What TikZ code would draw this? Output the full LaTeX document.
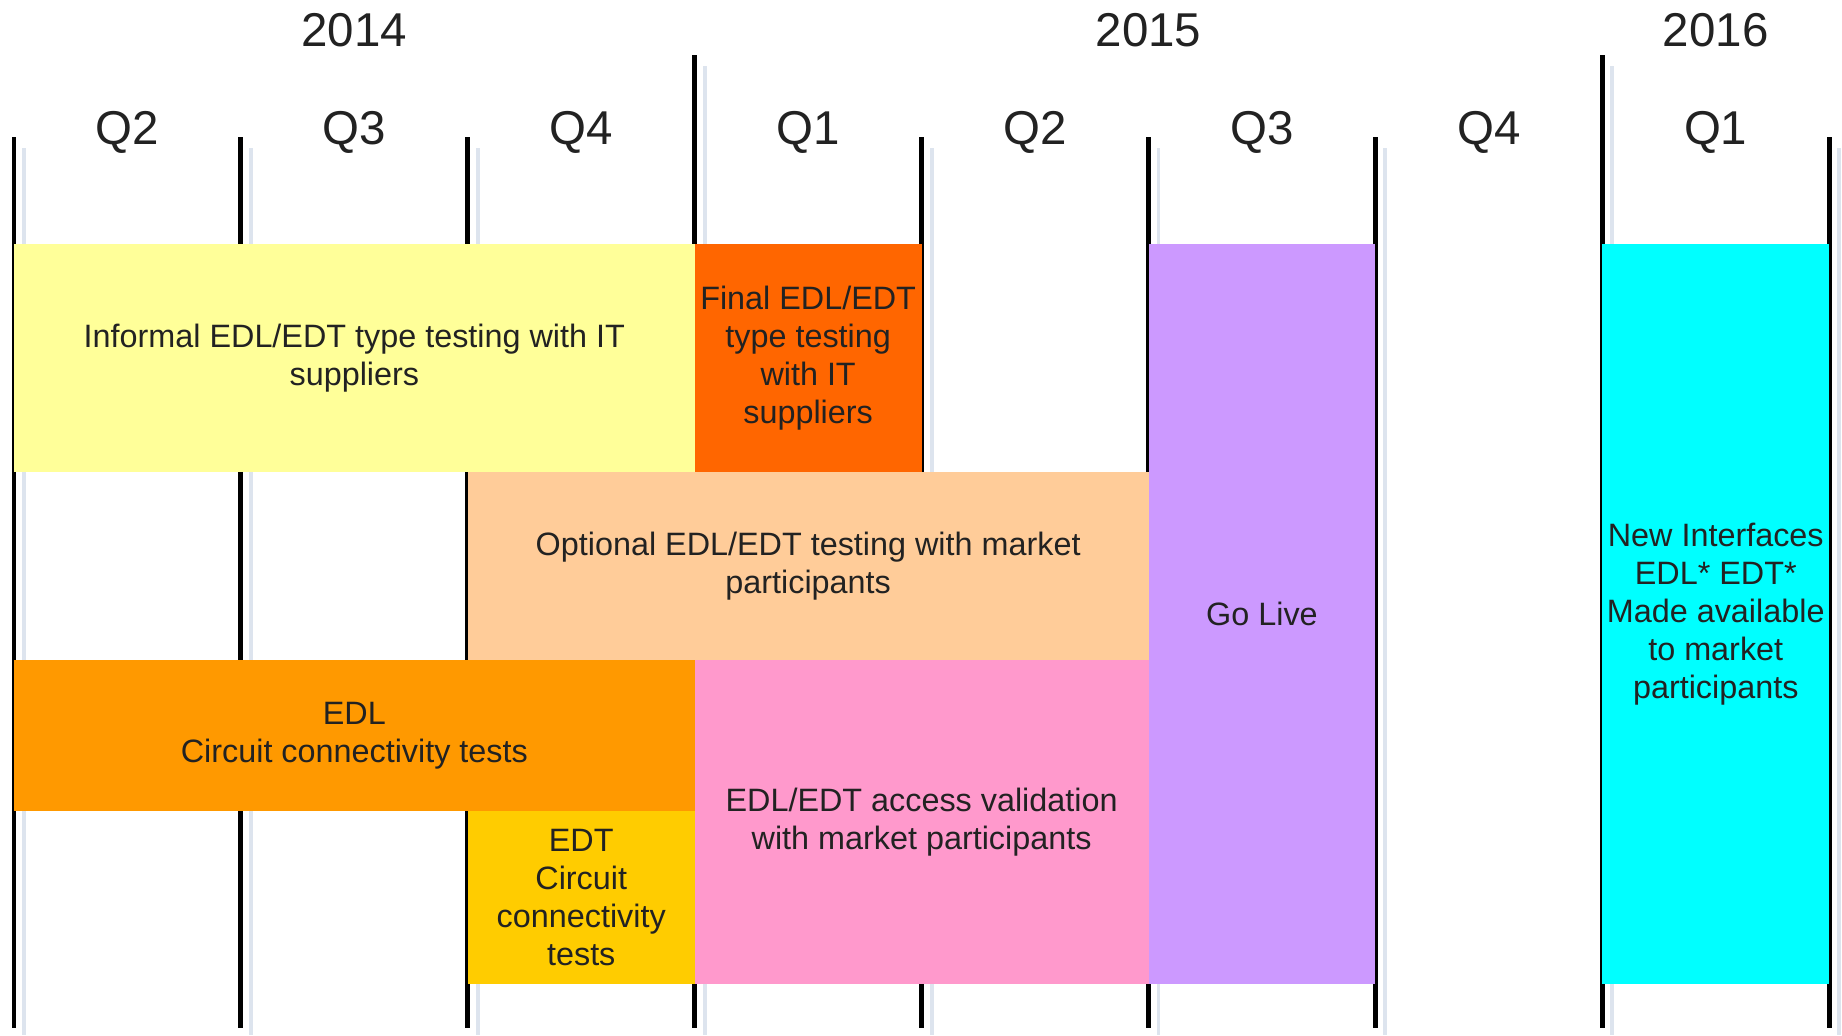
\documentclass[tikz,border=0pt]{standalone}
\usepackage{fontspec}
\setmainfont{Liberation Sans}
\usetikzlibrary{fit}
\definecolor{cInformal}{HTML}{FFFF99}
\definecolor{cFinal}{HTML}{FF6600}
\definecolor{cOptional}{HTML}{FFCC99}
\definecolor{cEDL}{HTML}{FF9900}
\definecolor{cEDT}{HTML}{FFCC00}
\definecolor{cAccess}{HTML}{FF99CC}
\definecolor{cLive}{HTML}{CC99FF}
\definecolor{cNew}{HTML}{00FFFF}
\definecolor{cShade}{HTML}{DDE4EE}
\definecolor{cText}{HTML}{222222}
\begin{document}
\begin{tikzpicture}[x=0.01cm,y=-0.01cm,
  hdr/.style={font=\fontsize{13.5}{16}\selectfont, text=cText, inner sep=0pt},
  bar/.style={inner sep=0pt, outer sep=0pt, draw=none},
  bartext/.style={inner sep=0pt, align=center, text=cText,
              font=\fontsize{9.2}{10.8}\selectfont},
  qline/.style={line width=1.4pt, black},
  shadeline/.style={line width=1.1pt, cShade}]
\useasboundingbox[fill=white] (0,0) rectangle (1842,1035);

% faint shadow lines
\foreach \x/\t in {14/148, 240.9/148, 467.8/148, 694.7/66, 921.6/148, 1148.5/148, 1375.4/148, 1602.3/66, 1829.2/148}
  \draw[shadeline] ({\x+10},\t) -- ({\x+10},1035);

% quarter and year lines
\foreach \x/\t in {14/137, 240.9/137, 467.8/137, 694.7/55, 921.6/137, 1148.5/137, 1375.4/137, 1602.3/55, 1829.2/137}
  \draw[qline] (\x,\t) -- (\x,1028);

% headers
\node[hdr] (y2014) at (354.4,30) {2014};
\node[hdr] (y2015) at (1148.5,30) {2015};
\node[hdr] (y2016) at (1715.7,30) {2016};
\node[hdr] (q1) at (127.5,132) {Q2};
\node[hdr] (q2) at (354.4,132) {Q3};
\node[hdr] (q3) at (581.3,132) {Q4};
\node[hdr] (q4) at (808.2,132) {Q1};
\node[hdr] (q5) at (1035.1,132) {Q2};
\node[hdr] (q6) at (1262,132) {Q3};
\node[hdr] (q7) at (1488.9,132) {Q4};
\node[hdr] (q8) at (1715.7,132) {Q1};

% activity bars
\node[bar, fill=cInformal, fit={(14,244) (694.7,472)}] (informal) {};
\node[bar, fill=cFinal, fit={(694.7,244) (921.6,472)}] (final) {};
\node[bar, fill=cOptional, fit={(467.8,472) (1148.5,660)}] (optional) {};
\node[bar, fill=cEDL, fit={(14,660) (694.7,811)}] (edl) {};
\node[bar, fill=cEDT, fit={(467.8,811) (694.7,984)}] (edt) {};
\node[bar, fill=cAccess, fit={(694.7,660) (1148.5,984)}] (access) {};
\node[bar, fill=cLive, fit={(1148.5,244) (1375.4,984)}] (golive) {};
\node[bar, fill=cNew, fit={(1602.3,244) (1829.2,984)}] (newif) {};

% bar texts
\node[bartext] (informal-t) at (informal.center)
  {Informal EDL/EDT type testing with IT\\suppliers};
\node[bartext] (final-t) at (final.center)
  {Final EDL/EDT\\type testing\\with IT\\suppliers};
\node[bartext] (optional-t) at (optional.center)
  {Optional EDL/EDT testing with market\\participants};
\node[bartext] (edl-t) at (edl.center)
  {EDL\\Circuit connectivity tests};
\node[bartext] (edt-t) at (edt.center)
  {EDT\\Circuit\\connectivity\\tests};
\node[bartext] (access-t) at (access.center)
  {EDL/EDT access validation\\with market participants};
\node[bartext] (golive-t) at (golive.center)
  {Go Live};
\node[bartext] (newif-t) at (newif.center)
  {New Interfaces\\EDL* EDT*\\Made available\\to market\\participants};
\end{tikzpicture}
\end{document}
